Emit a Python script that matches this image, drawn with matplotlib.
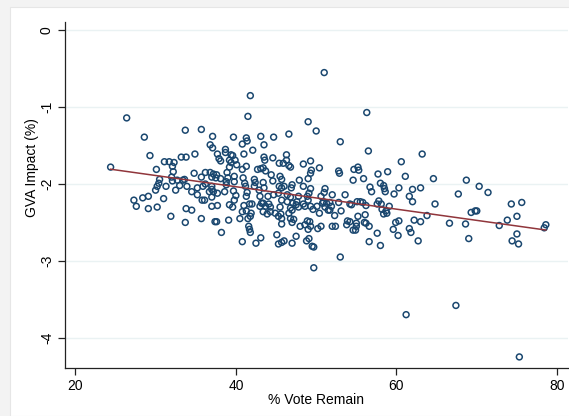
import matplotlib
matplotlib.use("Agg")
import matplotlib.pyplot as plt
import numpy as np
from matplotlib.patches import Rectangle

plt.rcParams['font.family'] = ['Liberation Sans', 'DejaVu Sans']

# % vote remain / GVA impact
remain_low = [26.4, 28.6, 33.7, 35.7, 37.1, 29.3, 34.9, 33.2, 33.8, 36.8,
              37.1, 31.1, 31.7, 32.3, 24.4, 30.1, 32.1, 32.2, 30.5, 32.0,
              32.7, 33.4, 33.6, 32.1, 34.8, 35.7, 36.2, 36.8, 37.2, 30.4,
              30.2, 31.3, 30.0, 33.0, 33.9, 32.5, 34.5, 35.2, 35.2, 35.9,
              36.2, 36.7, 37.0, 37.0, 37.0, 27.3, 28.4, 29.1, 31.0, 27.6,
              29.1, 30.2, 33.8, 34.5, 35.8, 36.1, 37.0, 31.9, 33.7, 35.7,
              37.4]
gva_low = [-1.14, -1.39, -1.30, -1.29, -1.38, -1.63, -1.61, -1.65, -1.65, -1.49,
           -1.53, -1.71, -1.71, -1.72, -1.78, -1.81, -1.77, -1.84, -1.94, -1.91,
           -1.95, -1.95, -1.94, -1.96, -1.86, -1.91, -1.85, -1.85, -1.87, -1.99,
           -2.03, -2.03, -2.08, -2.02, -2.03, -2.08, -2.10, -2.05, -2.14, -2.03,
           -2.00, -2.10, -2.07, -2.03, -2.17, -2.21, -2.18, -2.16, -2.19, -2.29,
           -2.32, -2.30, -2.32, -2.34, -2.21, -2.21, -2.29, -2.42, -2.50, -2.45,
           -2.49]

remain_mid_top = [51.0, 41.8, 41.5, 49.0, 50.0, 46.6, 44.7, 43.1, 41.3, 41.4,
                  39.7, 40.8, 43.5, 42.1, 38.7, 38.7, 37.7, 39.4, 39.6, 41.0,
                  37.9, 38.1, 39.2, 39.9, 40.1, 39.4, 39.2, 41.3, 40.8, 43.5,
                  43.6, 44.6, 46.3, 46.3, 45.4, 45.9, 46.6, 46.8, 48.4, 49.3,
                  49.4, 49.3, 50.4, 42.7, 43.1, 43.4, 43.7, 37.6, 38.1, 37.5,
                  37.0, 38.9, 39.0, 38.8, 39.8, 39.8, 40.9, 41.1, 41.2, 42.3,
                  42.4, 42.3, 43.4, 43.5, 44.4, 44.6, 45.5, 45.7, 45.4, 45.7,
                  46.0, 46.9, 47.0, 47.9, 49.0, 48.4, 49.3, 49.1, 48.9, 51.1,
                  51.0, 37.2, 37.7, 38.6, 38.8, 39.7, 40.0, 39.8, 41.4, 41.3,
                  42.9, 43.0, 44.0, 44.7, 45.3, 46.4, 46.8, 45.7, 46.4, 47.8,
                  47.6, 49.0, 50.6, 50.9,
                  37.7, 39.2, 39.6, 41.0, 41.7, 42.0, 43.0, 43.7, 44.3, 45.5,
                  46.8, 47.8, 48.6, 49.3, 50.1, 51.1]
gva_mid_top = [-0.55, -0.85, -1.12, -1.19, -1.31, -1.35, -1.39, -1.38, -1.40, -1.44,
               -1.39, -1.48, -1.49, -1.56, -1.55, -1.59, -1.61, -1.62, -1.63, -1.61,
               -1.67, -1.70, -1.69, -1.69, -1.75, -1.72, -1.78, -1.77, -1.81, -1.65,
               -1.69, -1.66, -1.62, -1.69, -1.73, -1.73, -1.76, -1.78, -1.74, -1.70,
               -1.82, -1.86, -1.79, -1.81, -1.80, -1.79, -1.83, -1.88, -1.93, -1.92,
               -1.91, -1.85, -1.92, -1.97, -1.90, -1.97, -1.92, -1.99, -2.03, -1.94,
               -1.98, -2.03, -1.98, -2.05, -1.88, -1.96, -1.90, -1.94, -2.03, -2.05,
               -2.03, -2.05, -2.01, -1.95, -1.93, -2.03, -2.06, -2.12, -2.16, -2.06,
               -2.11, -2.10, -2.12, -2.10, -2.01, -2.09, -2.15, -2.21, -2.11, -2.16,
               -2.08, -2.16, -2.16, -2.14, -2.12, -2.14, -2.17, -2.21, -2.23, -2.16,
               -2.23, -2.21, -2.16, -2.23,
               -2.28, -2.27, -2.30, -2.28, -2.26, -2.26, -2.29, -2.29, -2.30, -2.30,
               -2.31, -2.30, -2.29, -2.29, -2.29, -2.30]

remain_mid_bot = [37.6, 39.1, 38.2, 40.5, 40.8, 41.3, 41.9, 41.5, 41.8, 41.6,
                  41.7, 41.8, 40.8, 42.5, 43.1, 43.4, 43.9, 44.3, 43.2, 43.4,
                  44.1, 44.9, 45.3, 45.6, 45.7, 45.7, 45.1, 45.3, 45.7, 46.0,
                  47.1, 47.5, 46.6, 47.0, 46.8, 47.2, 47.0, 47.5, 47.0, 48.0,
                  48.6, 48.9, 49.2, 49.3, 49.0, 48.8, 49.1, 49.5, 49.7, 49.7,
                  49.6, 48.4, 50.2, 50.6, 50.4, 50.8, 51.5]
gva_mid_bot = [-2.49, -2.47, -2.63, -2.45, -2.36, -2.35, -2.38, -2.45, -2.42, -2.55,
               -2.59, -2.63, -2.75, -2.77, -2.70, -2.36, -2.39, -2.36, -2.25, -2.25,
               -2.26, -2.38, -2.42, -2.39, -2.45, -2.52, -2.66, -2.78, -2.76, -2.74,
               -2.25, -2.27, -2.38, -2.34, -2.45, -2.46, -2.50, -2.68, -2.77, -2.55,
               -2.53, -2.48, -2.49, -2.55, -2.59, -2.74, -2.71, -2.81, -2.82, -3.09,
               -2.33, -2.26, -2.58, -2.55, -2.38, -2.25, -2.34]

remain_hi_top = [56.3, 53.0, 56.5, 63.2, 60.6, 52.8, 52.9, 54.7, 55.2, 55.3,
                 54.6, 55.9, 57.7, 58.9, 61.1, 64.6, 58.0, 58.4, 58.5, 58.6,
                 56.7, 56.9, 60.3, 59.7, 62.0, 63.0, 61.6, 62.0, 52.0, 53.6,
                 51.3, 51.7, 51.9, 52.8, 54.2, 55.1, 55.5, 55.8, 56.2, 57.6,
                 57.8, 58.1, 59.1, 64.8]
gva_hi_top = [-1.07, -1.45, -1.57, -1.61, -1.71, -1.83, -1.86, -1.81, -1.78, -1.82,
              -1.95, -1.93, -1.87, -1.84, -1.90, -1.93, -1.99, -2.02, -2.06, -2.10,
              -2.04, -2.10, -2.05, -2.13, -2.07, -2.05, -2.16, -2.23, -2.14, -2.14,
              -2.25, -2.24, -2.29, -2.24, -2.26, -2.23, -2.23, -2.24, -2.28, -2.26,
              -2.22, -2.26, -2.29, -2.26]

remain_hi_bot = [51.7, 53.1, 52.3, 52.0, 52.4, 54.4, 53.9, 54.2, 53.8, 55.0,
                 55.0, 54.6, 54.9, 55.2, 56.1, 56.0, 56.2, 56.6, 57.6, 56.6,
                 58.0, 58.2, 58.4, 58.8, 58.7, 59.9, 60.3, 59.6, 60.2, 61.6,
                 61.8, 62.2, 63.0, 62.7, 63.8, 53.0]
gva_hi_bot = [-2.34, -2.35, -2.41, -2.55, -2.55, -2.27, -2.48, -2.49, -2.53, -2.51,
              -2.55, -2.60, -2.60, -2.42, -2.40, -2.50, -2.51, -2.55, -2.64, -2.75,
              -2.80, -2.33, -2.39, -2.38, -2.35, -2.50, -2.48, -2.59, -2.67, -2.58,
              -2.63, -2.47, -2.49, -2.74, -2.41, -2.95]

remain_top = [68.7, 70.3, 67.7, 71.4, 74.3, 75.6, 69.3, 69.8, 70.0, 66.6,
              68.6, 72.8, 73.8, 75.0, 78.6, 78.4, 69.0, 75.0, 74.4, 75.2,
              61.2, 67.4, 75.3]
gva_top = [-1.95, -2.03, -2.13, -2.11, -2.26, -2.24, -2.37, -2.35, -2.35, -2.51,
           -2.52, -2.54, -2.47, -2.42, -2.53, -2.57, -2.71, -2.65, -2.74, -2.78,
           -3.70, -3.58, -4.25]

x = np.array(remain_low + remain_mid_top + remain_mid_bot + remain_hi_top + remain_hi_bot + remain_top)
y = np.array(gva_low + gva_mid_top + gva_mid_bot + gva_hi_top + gva_hi_bot + gva_top)

# linear fit line
slope, intercept = np.polyfit(x, y, 1)
xfit = np.array([x.min(), x.max()])
yfit = intercept + slope * xfit

fig = plt.figure(figsize=(5.69, 4.16), dpi=100)
fig.patch.set_facecolor('#f3f3f3')
# white graph region, behind the axes
bg = Rectangle((10 / 569, 0), 1, 1 - 7 / 416, transform=fig.transFigure,
               facecolor='white', edgecolor='#e6e6e6', lw=0.8, zorder=-10)
fig.add_artist(bg)

ax = fig.add_axes([65 / 569, 48 / 416, 503 / 569, 346 / 416])
ax.set_zorder(1)
ax.set_facecolor('none')

ax.scatter(x, y, s=18, facecolors='none', edgecolors='#1a476f', linewidths=1.1, zorder=3)
ax.plot(xfit, yfit, color='#90353b', lw=1.1, zorder=4)

ax.set_xlim(18.72, 81.36)
ax.set_ylim(-4.394, 0.108)
ax.set_xticks([20, 40, 60, 80])
ax.set_yticks([0, -1, -2, -3, -4])
ax.set_yticklabels(['0', '-1', '-2', '-3', '-4'], rotation=90, va='center')
ax.grid(axis='y', color='#eaf2f3', lw=1.0, zorder=0)
ax.set_axisbelow(True)

for s in ['top', 'right']:
    ax.spines[s].set_visible(False)
for s in ['left', 'bottom']:
    ax.spines[s].set_color('#222222')
    ax.spines[s].set_linewidth(0.9)
ax.tick_params(length=5, width=0.9, color='#222222', labelsize=10, pad=3)

ax.set_xlabel('% Vote Remain', fontsize=10, labelpad=0)
ax.set_ylabel('GVA Impact (%)', fontsize=10)
ax.yaxis.set_label_coords(-0.052, 0.58)

fig.savefig('out.png', dpi=100, facecolor=fig.get_facecolor())
